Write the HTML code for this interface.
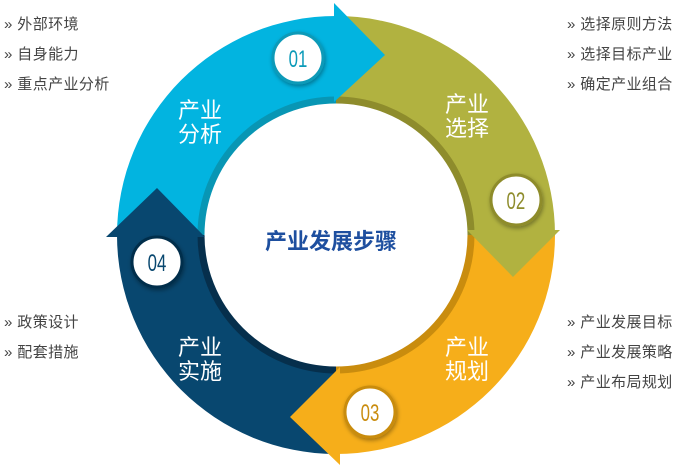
<!DOCTYPE html>
<html><head><meta charset="utf-8"><style>
body{margin:0;background:#fff;width:679px;height:470px;overflow:hidden;font-family:"Liberation Sans","Noto Sans CJK SC",sans-serif}
.l{position:absolute;font-size:15px;letter-spacing:0.4px;color:#444;line-height:30px;white-space:nowrap}
</style></head><body>
<svg width="679" height="470" style="position:absolute;left:0;top:0">
<defs>
<filter id="sh" x="-30%" y="-30%" width="160%" height="160%"><feDropShadow dx="1" dy="2" stdDeviation="2" flood-opacity="0.35"/></filter>
</defs>
<path d="M117,235 A219,219 0 0 1 336,16 L336,97 A138,138 0 0 0 198,235 Z" fill="#02b4e0"/>
<path d="M336,16 A219,219 0 0 1 555,235 L474,235 A138,138 0 0 0 336,97 Z" fill="#b1b240"/>
<path d="M555,235 A219,219 0 0 1 336,454 L336,373 A138,138 0 0 0 474,235 Z" fill="#f6ae1a"/>
<path d="M336,454 A219,219 0 0 1 117,235 L198,235 A138,138 0 0 0 336,373 Z" fill="#08476f"/>
<g fill="none" stroke-width="7">
<path d="M201,235 A135,135 0 0 1 336,100" stroke="#0896b4"/>
<path d="M336,100 A135,135 0 0 1 471,235" stroke="#8e8c2c"/>
<path d="M471,235 A135,135 0 0 1 336,370" stroke="#c98c0e"/>
<path d="M336,370 A135,135 0 0 1 201,235" stroke="#062f4c"/>
</g>
<polygon points="334,3 385,55 334,102" fill="#02b4e0"/>
<polygon points="467,230 560,230 513,277" fill="#b1b240"/>
<polygon points="340,367 290,417 340,465" fill="#f6ae1a"/>
<polygon points="106,237 157,188 205,237" fill="#08476f"/>
<g filter="url(#sh)">
<circle cx="298" cy="58" r="25" fill="#fff" stroke="#0a9ab8" stroke-width="3"/>
<circle cx="516" cy="200" r="25" fill="#fff" stroke="#8e8c2c" stroke-width="3"/>
<circle cx="370" cy="412" r="25" fill="#fff" stroke="#c98c0e" stroke-width="3"/>
<circle cx="157" cy="262" r="25" fill="#fff" stroke="#062f4c" stroke-width="3"/>
</g>
<g font-family="Liberation Sans Narrow, Liberation Sans, sans-serif" font-size="24" text-anchor="middle" transform="scale(0.7,1)">
<text x="425.7" y="67" fill="#0a9ab8">01</text>
<text x="737" y="209" fill="#8e8c2c">02</text>
<text x="528.6" y="421" fill="#c98c0e">03</text>
<text x="224.3" y="271" fill="#08476f">04</text>
</g>
<g fill="#fff" font-size="22" text-anchor="middle" font-family="Liberation Sans, Noto Sans CJK SC, sans-serif">
<text x="200" y="118">产业</text><text x="200" y="142">分析</text>
<text x="467" y="112">产业</text><text x="467" y="136">选择</text>
<text x="467" y="355">产业</text><text x="467" y="379">规划</text>
<text x="200" y="355">产业</text><text x="200" y="379">实施</text>
</g>
<text x="331" y="249" text-anchor="middle" font-size="22" font-weight="bold" fill="#1e4f9f" font-family="Liberation Sans, Noto Sans CJK SC, sans-serif">产业发展步骤</text>
</svg>
<div class="l" style="left:4px;top:10px">» 外部环境<br>» 自身能力<br>» 重点产业分析</div>
<div class="l" style="left:567px;top:10px">» 选择原则方法<br>» 选择目标产业<br>» 确定产业组合</div>
<div class="l" style="left:4px;top:308px">» 政策设计<br>» 配套措施</div>
<div class="l" style="left:567px;top:308px">» 产业发展目标<br>» 产业发展策略<br>» 产业布局规划</div>
</body></html>
